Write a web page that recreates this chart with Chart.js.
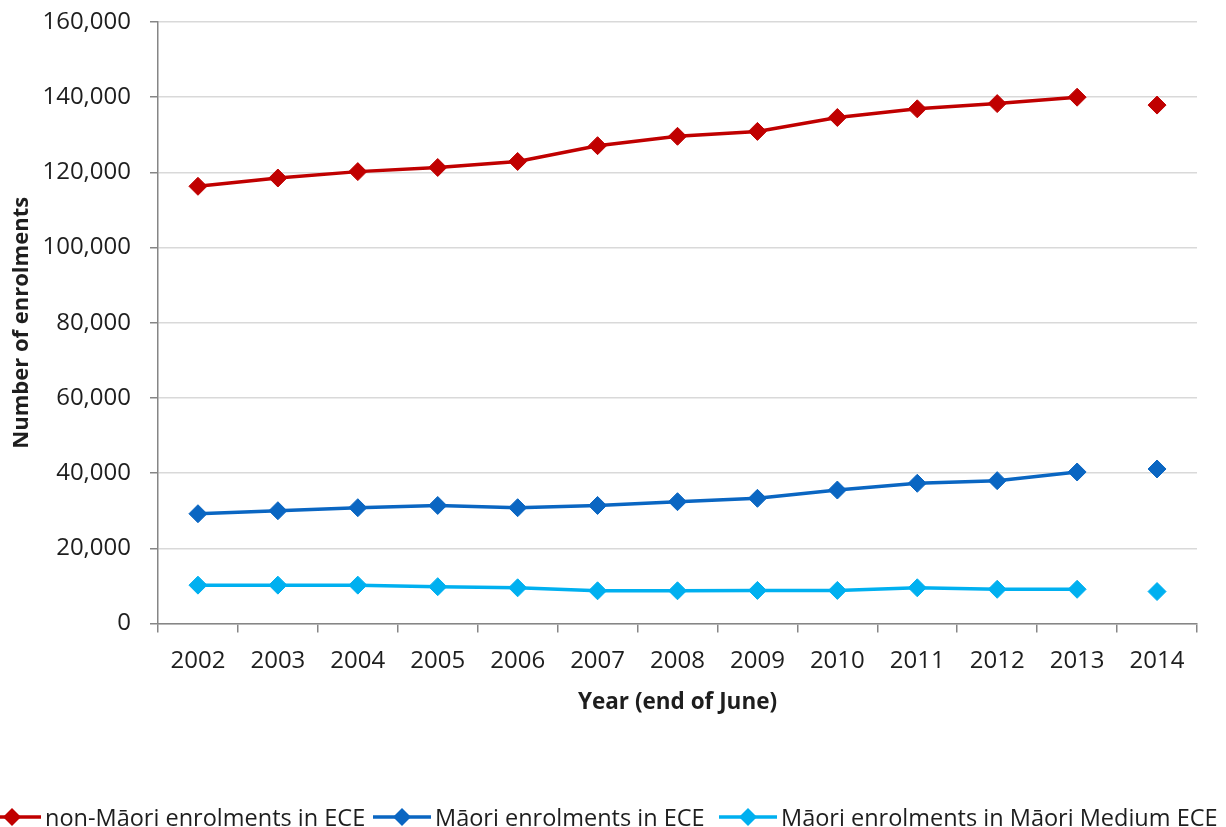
<!DOCTYPE html>
<html lang="en">
<head>
    <meta charset="UTF-8">
    <title>ECE enrolments</title>
    <script src="https://cdn.jsdelivr.net/npm/chart.js"></script>
    <style>
        html, body { margin: 0; padding: 0; background: #fff; }
        #wrap { position: relative; width: 1226px; height: 827px; overflow: hidden; }
        #legend { position: absolute; top: 801px; left: 0; width: 1226px; height: 30px;
                  font-family: "Open Sans", sans-serif; font-size: 23.5px; color: #1e1e1e; }
        .item { position: absolute; top: 0; display: flex; align-items: center; white-space: nowrap; }
        .item svg { margin-right: 4px; }
    </style>
</head>
<body>
<div id="wrap">
    <canvas id="enrolChart" width="1226" height="827"></canvas>
    <div id="legend"></div>
</div>

<script>
    const years = ['2002', '2003', '2004', '2005', '2006', '2007', '2008', '2009', '2010', '2011', '2012', '2013', '2014'];
    const nonMaoriECE = [116300, 118500, 120200, 121300, 122900, 127100, 129600, 130900, 134600, 136900, 138300, 140000, 137900];
    const maoriECE = [29200, 30000, 30800, 31400, 30800, 31400, 32400, 33300, 35500, 37300, 38000, 40300, 41100];
    const maoriMediumECE = [10200, 10200, 10200, 9800, 9500, 8700, 8700, 8800, 8800, 9500, 9100, 9100, 8500];
    const yTicks = [0, 20000, 40000, 60000, 80000, 100000, 120000, 140000, 160000];

    const seriesNames = ['non-Māori enrolments in ECE', 'Māori enrolments in ECE', 'Māori enrolments in Māori Medium ECE'];
    const seriesColors = ['#c00000', '#0a66c2', '#00b0f0'];
    const legendLeft = [-17, 373, 719];

    const FONT = '"Open Sans", sans-serif';
    const TEXT = '#1e1e1e';

    function makeSeries(i, values) {
        return {
            label: seriesNames[i],
            data: values,
            borderColor: seriesColors[i],
            backgroundColor: seriesColors[i],
            borderWidth: 3.5,
            pointStyle: 'rectRot',
            pointRadius: 9,
            pointBorderWidth: 1,
            tension: 0,
            // 2014 figures are shown on their own, not joined to the series
            segment: {
                borderColor: c => c.p1DataIndex === years.length - 1 ? 'rgba(0,0,0,0)' : undefined
            }
        };
    }

    const ctx = document.getElementById('enrolChart').getContext('2d');
    new Chart(ctx, {
        type: 'line',
        data: {
            labels: years,
            datasets: [
                makeSeries(0, nonMaoriECE),
                makeSeries(1, maoriECE),
                makeSeries(2, maoriMediumECE)
            ]
        },
        options: {
            responsive: false,
            animation: false,
            layout: { padding: { left: 0, right: 29, top: 22, bottom: 103.5 } },
            plugins: {
                legend: { display: false },
                tooltip: { enabled: false }
            },
            scales: {
                x: {
                    offset: true,
                    afterFit: s => { s.height = 100; },
                    grid: { offset: true, drawOnChartArea: false, drawTicks: true, tickLength: 9, tickColor: '#868686', lineWidth: 1.5 },
                    border: { color: '#868686', width: 1.5 },
                    ticks: { color: TEXT, font: { family: FONT, size: 24 }, padding: 14, maxRotation: 0 },
                    title: {
                        display: true,
                        text: 'Year (end of June)',
                        color: TEXT,
                        font: { family: FONT, size: 22.5, weight: 'bold' },
                        padding: { top: 0, bottom: 7 }
                    }
                },
                y: {
                    min: 0,
                    max: 160000,
                    // fixed axis width; label padding is not added above/below the plot
                    afterFit: s => { s.width = 158; s.paddingTop = 0; s.paddingBottom = 0; },
                    afterBuildTicks: s => { s.ticks = yTicks.map(v => ({ value: v })); },
                    grid: { color: '#d9d9d9', lineWidth: 1.5, drawTicks: true, tickLength: 8, tickColor: '#868686' },
                    border: { color: '#868686', width: 1.5 },
                    ticks: {
                        color: TEXT,
                        font: { family: FONT, size: 24 },
                        padding: 19,
                        callback: v => v.toLocaleString('en-US')
                    },
                    title: {
                        display: true,
                        text: 'Number of enrolments',
                        color: TEXT,
                        font: { family: FONT, size: 22, weight: 'bold' },
                        padding: { top: 9, bottom: 0 }
                    }
                }
            }
        }
    });

    // legend: short line with a diamond, then the series name
    const legend = document.getElementById('legend');
    seriesNames.forEach((name, i) => {
        const item = document.createElement('div');
        item.className = 'item';
        item.style.left = legendLeft[i] + 'px';
        const c = seriesColors[i];
        item.innerHTML =
            '<svg width="58" height="30" viewBox="0 0 58 30">' +
            '<line x1="0" y1="15" x2="58" y2="15" stroke="' + c + '" stroke-width="3.5"/>' +
            '<polygon points="29,6 38,15 29,24 20,15" fill="' + c + '"/></svg>' +
            '<span>' + name + '</span>';
        legend.appendChild(item);
    });
</script>
</body>
</html>
